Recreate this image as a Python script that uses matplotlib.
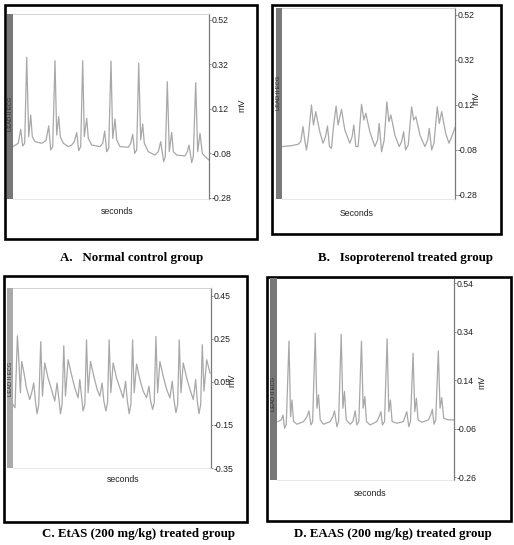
import matplotlib
matplotlib.use('Agg')
import matplotlib.pyplot as plt
import matplotlib.patches as patches

plt.rcParams['axes.unicode_minus'] = False
plt.rcParams['font.family'] = 'Liberation Sans'

W, H = 514, 545

## ECG traces (time in s, voltage in mV)

# A. normal control group
a_time = [0.00, 0.053, 0.077, 0.097, 0.117, 0.137, 0.157, 0.177, 0.193, 0.22,
          0.287, 0.33, 0.357, 0.377, 0.397, 0.42, 0.437, 0.457, 0.473, 0.503,
          0.553, 0.587, 0.613, 0.637, 0.657, 0.677, 0.697, 0.713, 0.737, 0.753,
          0.787, 0.87, 0.897, 0.917, 0.937, 0.957, 0.98, 0.997, 1.02, 1.037,
          1.07, 1.153, 1.177, 1.197, 1.217, 1.237, 1.257, 1.277, 1.297, 1.313,
          1.353, 1.42, 1.453, 1.477, 1.507, 1.523, 1.543, 1.563, 1.587, 1.603,
          1.637, 1.72, 1.743, 1.76, 1.787, 1.803, 1.827, 1.847, 1.87, 1.893,
          1.92, 1.96]
a_mv = [-0.050, -0.035, 0.028, -0.047, -0.035, 0.352, -0.005, 0.092, -0.005, -0.028,
        -0.035, -0.023, 0.043, -0.065, -0.050, 0.337, 0.002, 0.085, -0.005, -0.035,
        -0.050, -0.043, -0.028, 0.013, -0.068, -0.050, 0.337, -0.005, 0.077, -0.013,
        -0.043, -0.050, -0.035, 0.020, -0.073, -0.058, 0.335, -0.013, 0.074, -0.020,
        -0.050, -0.053, -0.035, 0.005, -0.080, -0.065, 0.325, -0.020, 0.052, -0.035,
        -0.073, -0.088, -0.073, -0.028, -0.118, -0.095, 0.242, -0.073, 0.014, -0.073,
        -0.088, -0.092, -0.073, -0.043, -0.122, -0.095, 0.238, -0.073, 0.010, -0.080,
        -0.095, -0.110]

# B. isoproterenol treated group
b_time = [0.0, 0.094, 0.16, 0.187, 0.21, 0.227, 0.244, 0.26, 0.294, 0.314,
          0.337, 0.377, 0.41, 0.434, 0.454, 0.474, 0.494, 0.514, 0.54, 0.56,
          0.594, 0.627, 0.677, 0.70, 0.717, 0.737, 0.76, 0.794, 0.817, 0.837,
          0.877, 0.927, 0.954, 0.97, 0.994, 1.02, 1.047, 1.067, 1.087, 1.127,
          1.17, 1.194, 1.214, 1.234, 1.26, 1.294, 1.314, 1.337, 1.377, 1.427,
          1.454, 1.47, 1.494, 1.517, 1.55, 1.57, 1.594, 1.634, 1.667, 1.694,
          1.727]
b_mv = [-0.065, -0.061, -0.055, -0.043, 0.024, -0.036, -0.080, -0.036, 0.120, 0.031,
        0.090, 0.001, -0.050, -0.021, 0.026, -0.065, -0.073, 0.024, 0.115, 0.031,
        0.100, 0.009, -0.050, -0.021, 0.031, -0.065, -0.065, 0.123, 0.053, 0.083,
        0.001, -0.065, -0.036, 0.038, -0.088, -0.036, 0.134, 0.046, 0.075, -0.014,
        -0.065, -0.043, 0.001, -0.080, -0.058, 0.112, 0.053, 0.068, -0.014, -0.065,
        -0.036, 0.016, -0.080, -0.050, 0.112, 0.038, 0.090, -0.006, -0.050, -0.021,
        0.019]

# C. EtAS (200 mg/kg) treated group
c_time = [0.0, 0.02, 0.044, 0.057, 0.074, 0.087, 0.107, 0.134, 0.167, 0.19,
          0.207, 0.224, 0.24, 0.257, 0.277, 0.294, 0.317, 0.35, 0.384, 0.417,
          0.44, 0.457, 0.474, 0.49, 0.507, 0.524, 0.55, 0.584, 0.617, 0.65,
          0.667, 0.684, 0.70, 0.717, 0.734, 0.75, 0.774, 0.807, 0.84, 0.867,
          0.89, 0.907, 0.927, 0.944, 0.96, 0.977, 1.0, 1.034, 1.067, 1.10,
          1.124, 1.14, 1.16, 1.177, 1.194, 1.21, 1.234, 1.267, 1.30, 1.334,
          1.357, 1.374, 1.394, 1.41, 1.427, 1.444, 1.467, 1.50, 1.534, 1.567,
          1.59, 1.607, 1.627, 1.644, 1.66, 1.677, 1.70, 1.734, 1.767, 1.80,
          1.824, 1.84, 1.857, 1.874, 1.89, 1.907, 1.934, 1.967]
c_mv = [-0.055, -0.070, 0.264, 0.161, 0.000, 0.145, 0.099, 0.022, -0.032, 0.007,
        0.045, -0.039, -0.098, -0.055, 0.237, -0.016, 0.138, 0.068, 0.015, -0.039,
        0.045, -0.024, -0.098, -0.055, 0.218, -0.016, 0.153, 0.084, 0.022, -0.024,
        0.061, -0.016, -0.085, -0.055, 0.245, 0.000, 0.145, 0.076, 0.015, -0.016,
        0.045, -0.039, -0.085, -0.047, 0.245, 0.000, 0.138, 0.068, 0.022, -0.024,
        0.053, -0.032, -0.098, -0.055, 0.245, 0.000, 0.133, 0.061, 0.007, -0.024,
        0.030, -0.039, -0.078, -0.047, 0.261, 0.000, 0.145, 0.076, 0.015, -0.024,
        0.053, -0.032, -0.093, -0.055, 0.245, 0.000, 0.138, 0.068, 0.015, -0.032,
        0.061, -0.039, -0.098, -0.055, 0.223, 0.007, 0.153, 0.091]

# D. EAAS (200 mg/kg) treated group
d_time = [0.01, 0.043, 0.06, 0.076, 0.093, 0.12, 0.136, 0.15, 0.166, 0.20,
          0.266, 0.30, 0.32, 0.34, 0.357, 0.383, 0.40, 0.416, 0.433, 0.466,
          0.533, 0.56, 0.576, 0.60, 0.617, 0.643, 0.66, 0.676, 0.693, 0.733,
          0.76, 0.783, 0.80, 0.82, 0.846, 0.863, 0.88, 0.896, 0.933, 1.0,
          1.023, 1.04, 1.056, 1.077, 1.103, 1.12, 1.136, 1.153, 1.20, 1.266,
          1.283, 1.30, 1.32, 1.337, 1.363, 1.38, 1.396, 1.413, 1.45, 1.516,
          1.54, 1.556, 1.573, 1.59, 1.616, 1.633, 1.65, 1.67, 1.716, 1.773]
d_mv = [-0.030, -0.023, -0.003, -0.058, -0.041, 0.302, -0.010, 0.059, -0.030, -0.041,
        -0.030, -0.010, 0.014, -0.044, -0.030, 0.334, 0.025, 0.080, -0.023, -0.041,
        -0.030, -0.010, 0.014, -0.051, -0.030, 0.330, 0.025, 0.094, -0.023, -0.041,
        -0.030, 0.014, -0.044, -0.030, 0.302, 0.025, 0.073, -0.030, -0.044, -0.030,
        -0.010, 0.011, -0.044, -0.030, 0.311, 0.011, 0.059, -0.030, -0.037, -0.030,
        -0.010, 0.011, -0.051, -0.030, 0.252, 0.011, 0.066, -0.023, -0.033, -0.023,
        -0.003, 0.020, -0.041, -0.023, 0.261, 0.025, 0.069, -0.017, -0.023, -0.023]

# right hand tick labels of each panel
a_ticks = [0.52, 0.32, 0.12, -0.08, -0.28]
b_ticks = [0.52, 0.32, 0.12, -0.08, -0.28]
c_ticks = [0.45, 0.25, 0.05, -0.15, -0.35]
d_ticks = [0.54, 0.34, 0.14, -0.06, -0.26]

captions = ['A.   Normal control group',
            'B.   Isoproterenol treated group',
            'C. EtAS (200 mg/kg) treated group',
            'D. EAAS (200 mg/kg) treated group']
x_labels = ['seconds', 'Seconds', 'seconds', 'seconds']


def rect(x0, y0, x1, y1):
    '''pixel box (from top left) to figure fraction rect'''
    return [x0 / W, 1 - y1 / H, (x1 - x0) / W, (y1 - y0) / H]


def fig_xy(x, y):
    return x / W, 1 - y / H


def draw_panel(fig, p):
    '''one framed ECG panel with its grey lead bar, right axis and labels'''
    # black frame round the panel
    bx0, by0, bx1, by1 = p['box']
    r = rect(bx0, by0, bx1, by1)
    fig.patches.append(patches.Rectangle((r[0], r[1]), r[2], r[3], transform=fig.transFigure,
                                         fill=False, edgecolor='black', linewidth=1.9))

    # grey bar on the left with the lead name
    gx0, gx1 = p['bar']
    px0, py0, px1, py1 = p['plot']
    r = rect(gx0, py0, gx1, py1)
    fig.patches.append(patches.Rectangle((r[0], r[1]), r[2], r[3], transform=fig.transFigure,
                                         facecolor=p['bar_color'], edgecolor='none'))
    fig.text(*fig_xy((gx0 + gx1) / 2, p['lead_y']), 'LEAD II ECG', rotation=90,
             ha='center', va='center', fontsize=4.2, color='#2a2a2a')

    ax = fig.add_axes(rect(px0, py0, px1, py1))
    ax.plot(p['time'], p['mv'], color='#a8a8a8', linewidth=0.9)
    ax.set_xlim(0, p['xmax'])
    ax.set_ylim(p['ylim'])
    ax.set_xticks([])
    ax.yaxis.tick_right()
    ax.set_yticks(p['ticks'])
    ax.set_yticklabels(['%.2f' % t for t in p['ticks']])
    ax.tick_params(axis='y', length=1.5, width=0.6, pad=0.5, labelsize=6.3,
                   colors='#777777', labelcolor='#222222')
    ax.spines['left'].set_visible(False)
    ax.spines['right'].set_color('#7a7a7a')
    ax.spines['right'].set_linewidth(0.9)
    ax.spines['top'].set_color('#cccccc')
    ax.spines['top'].set_linewidth(0.6)
    ax.spines['bottom'].set_color('#dddddd')
    ax.spines['bottom'].set_linewidth(0.5)

    fig.text(*fig_xy(*p['mv_pos']), 'mV', rotation=90, ha='center', va='center',
             fontsize=6.5, color='#222222')
    fig.text(*fig_xy(*p['sec_pos']), p['xlabel'], ha='center', va='center',
             fontsize=6.3, color='#222222')
    fig.text(*fig_xy(*p['cap_pos']), p['caption'], ha='center', va='center',
             fontsize=9.3, fontweight='bold', family='Liberation Serif')


def main():
    fig = plt.figure(figsize=(W / 100, H / 100), dpi=100)

    panels = [
        dict(time=a_time, mv=a_mv, ticks=a_ticks, ylim=(-0.286, 0.547), xmax=1.96,
             box=(5, 5, 257, 239), plot=(13, 14, 209, 199), bar=(7, 13), bar_color='#777777',
             lead_y=114, mv_pos=(242, 105), sec_pos=(117, 212), xlabel=x_labels[0],
             cap_pos=(132, 258), caption=captions[0]),
        dict(time=b_time, mv=b_mv, ticks=b_ticks, ylim=(-0.298, 0.551), xmax=1.727,
             box=(272, 5, 501, 234), plot=(282, 8, 455, 199), bar=(276, 282), bar_color='#7a7a7a',
             lead_y=93, mv_pos=(476, 98), sec_pos=(357, 213), xlabel=x_labels[1],
             cap_pos=(405, 258), caption=captions[1]),
        dict(time=c_time, mv=c_mv, ticks=c_ticks, ylim=(-0.345, 0.486), xmax=1.977,
             box=(4, 276, 247, 522), plot=(13, 288, 211, 468), bar=(7, 13), bar_color='#aaaaaa',
             lead_y=379, mv_pos=(232, 380), sec_pos=(123, 480), xlabel=x_labels[2],
             cap_pos=(138, 534), caption=captions[2]),
        dict(time=d_time, mv=d_mv, ticks=d_ticks, ylim=(-0.271, 0.562), xmax=1.773,
             box=(267, 277, 511, 521), plot=(277, 278, 454, 480), bar=(270, 277), bar_color='#777777',
             lead_y=394, mv_pos=(482, 382), sec_pos=(370, 494), xlabel=x_labels[3],
             cap_pos=(393, 534), caption=captions[3]),
    ]

    for p in panels:
        draw_panel(fig, p)

    fig.savefig('out.png', dpi=100)
    plt.close(fig)


if __name__ == "__main__":
    main()
